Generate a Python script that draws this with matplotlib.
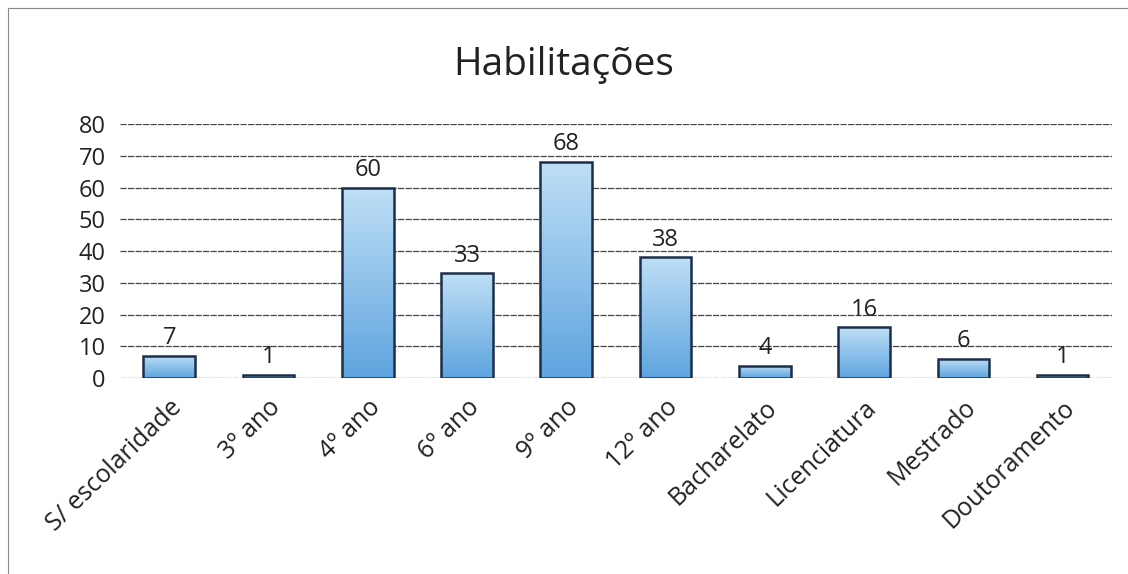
import matplotlib.pyplot as plt
import matplotlib.patches as mpatches
import numpy as np

# dados
categorias = ['S/ escolaridade', '3º ano', '4º ano', '6º ano', '9º ano',
              '12º ano', 'Bacharelato', 'Licenciatura', 'Mestrado', 'Doutoramento']
valores = [7, 1, 60, 33, 68, 38, 4, 16, 6, 1]
y_ticks = [0, 10, 20, 30, 40, 50, 60, 70, 80]

plt.rcParams['font.family'] = ['Open Sans', 'DejaVu Sans']

fig = plt.figure(figsize=(11.28, 5.74), dpi=100)
ax = fig.add_axes([0.106, 0.341, 0.880, 0.443])

x = np.arange(len(categorias))
barras = ax.bar(x, valores, width=0.52, color='none', edgecolor='#1a2f4a',
                linewidth=1.8, zorder=3)

# gradiente vertical: claro em cima, azul mais forte em baixo
grad = np.linspace(0, 1, 256).reshape(-1, 1)
cmap = plt.matplotlib.colors.LinearSegmentedColormap.from_list(
    'azul', ['#5ea4df', '#bfdff6'])
for b in barras:
    bx, by = b.get_x(), b.get_y()
    im = ax.imshow(grad, extent=[bx, bx + b.get_width(), by, by + b.get_height()],
                   aspect='auto', cmap=cmap, origin='lower', zorder=2)
    im.set_clip_path(b)
    ax.text(bx + b.get_width() / 2, b.get_height() + 1.8, str(int(b.get_height())),
            ha='center', va='bottom', fontsize=17, color='#222222', zorder=4)

ax.set_xlim(-0.5, len(categorias) - 0.5)
ax.set_ylim(0, 80)
ax.set_yticks(y_ticks)
ax.set_xticks(x)
ax.set_xticklabels(categorias, rotation=44, ha='right', rotation_mode='anchor',
                   fontsize=18, color='#222222')
ax.tick_params(axis='y', labelsize=17, labelcolor='#222222', length=0, pad=10)
ax.tick_params(axis='x', length=0, pad=12)
ax.yaxis.grid(True, color='#444444', linewidth=0.9, linestyle=(0, (5, 1)), zorder=0)
for s in ax.spines.values():
    s.set_visible(False)

fig.suptitle('Habilitações', fontsize=28, color='#222222', y=0.887, va='center')

# moldura do gráfico
fig.patches.append(mpatches.Rectangle((0.007, -0.05), 1.2, 1.036,
                                      transform=fig.transFigure, fill=False,
                                      edgecolor='#888888', linewidth=0.8))

fig.savefig('out.png', dpi=100)
